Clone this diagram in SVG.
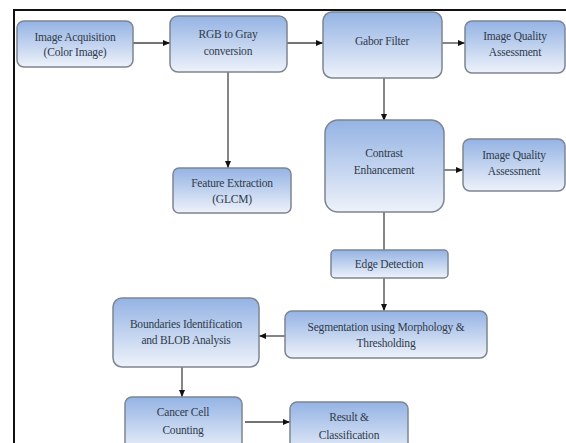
<svg xmlns="http://www.w3.org/2000/svg" width="566" height="443" viewBox="0 0 566 443">
<defs>
<linearGradient id="g" x1="0" y1="0" x2="0" y2="1">
<stop offset="0" stop-color="#94b3e4"/>
<stop offset="1" stop-color="#eef2fa"/>
</linearGradient>
<marker id="ah" markerWidth="8" markerHeight="8" refX="7" refY="4" orient="auto" markerUnits="userSpaceOnUse">
<path d="M0,1 L7,4 L0,7 Z" fill="#111"/>
</marker>
</defs>
<style>
.b{fill:url(#g);stroke:#7d8591;stroke-width:1.5}
.t{font-family:"Liberation Serif","Times New Roman",serif;font-size:11.5px;fill:#2f3a4a;text-anchor:middle;letter-spacing:-0.2px}
.c{stroke:#444;stroke-width:1.3;fill:none}
.a{marker-end:url(#ah)}
</style>
<rect x="0" y="0" width="566" height="443" fill="#fff"/>
<path d="M14,443 L14,10 L566,10" fill="none" stroke="#111" stroke-width="2"/>
<g id="connectors">
<line class="c a" x1="133" y1="43" x2="170" y2="43"/>
<line class="c a" x1="287" y1="43" x2="323" y2="43"/>
<line class="c a" x1="442" y1="43" x2="465" y2="43"/>
<line class="c a" x1="228" y1="72" x2="228" y2="168"/>
<line class="c a" x1="384" y1="78" x2="384" y2="121"/>
<line class="c a" x1="444" y1="170" x2="463" y2="170"/>
<line class="c" x1="384" y1="212" x2="384" y2="250"/>
<line class="c a" x1="384" y1="278" x2="384" y2="311"/>
<line class="c a" x1="285" y1="336" x2="259" y2="336"/>
<line class="c a" x1="182" y1="367" x2="182" y2="397"/>
<line class="c a" x1="245" y1="422" x2="290" y2="422"/>
</g>
<g id="acq"><rect class="b" x="17" y="21" width="116" height="46" rx="7"/><text class="t" x="75" y="41">Image Acquisition</text><text class="t" x="75" y="56">(Color Image)</text></g>
<g id="rgb"><rect class="b" x="170" y="16" width="117" height="56" rx="8"/><text class="t" x="228" y="38">RGB to Gray</text><text class="t" x="228" y="55">conversion</text></g>
<g id="gabor"><rect class="b" x="323" y="12" width="119" height="66" rx="9"/><text class="t" x="382" y="45">Gabor Filter</text></g>
<g id="iqa1"><rect class="b" x="465" y="21" width="100" height="52" rx="7"/><text class="t" x="515" y="40">Image Quality</text><text class="t" x="515" y="56">Assessment</text></g>
<g id="feature"><rect class="b" x="173" y="168" width="118" height="45" rx="6"/><text class="t" x="232" y="187">Feature Extraction</text><text class="t" x="232" y="203">(GLCM)</text></g>
<g id="contrast"><rect class="b" x="325" y="120" width="119" height="92" rx="13"/><text class="t" x="384" y="157">Contrast</text><text class="t" x="384" y="174">Enhancement</text></g>
<g id="iqa2"><rect class="b" x="463" y="139" width="102" height="52" rx="7"/><text class="t" x="514" y="159">Image Quality</text><text class="t" x="514" y="175">Assessment</text></g>
<g id="edge"><rect class="b" x="331" y="250" width="117" height="28" rx="4"/><text class="t" x="389" y="268">Edge Detection</text></g>
<g id="seg"><rect class="b" x="285" y="311" width="202" height="47" rx="7"/><text class="t" x="386" y="331">Segmentation using Morphology &amp;</text><text class="t" x="386" y="347">Thresholding</text></g>
<g id="bound"><rect class="b" x="113" y="298" width="146" height="69" rx="9"/><text class="t" x="186" y="328">Boundaries Identification</text><text class="t" x="186" y="344">and BLOB Analysis</text></g>
<g id="cancer"><rect class="b" x="125" y="397" width="117" height="56" rx="7"/><text class="t" x="183" y="416">Cancer Cell</text><text class="t" x="183" y="434">Counting</text></g>
<g id="result"><rect class="b" x="290" y="402" width="118" height="56" rx="7"/><text class="t" x="349" y="421">Result &amp;</text><text class="t" x="349" y="439">Classification</text></g>
</svg>
